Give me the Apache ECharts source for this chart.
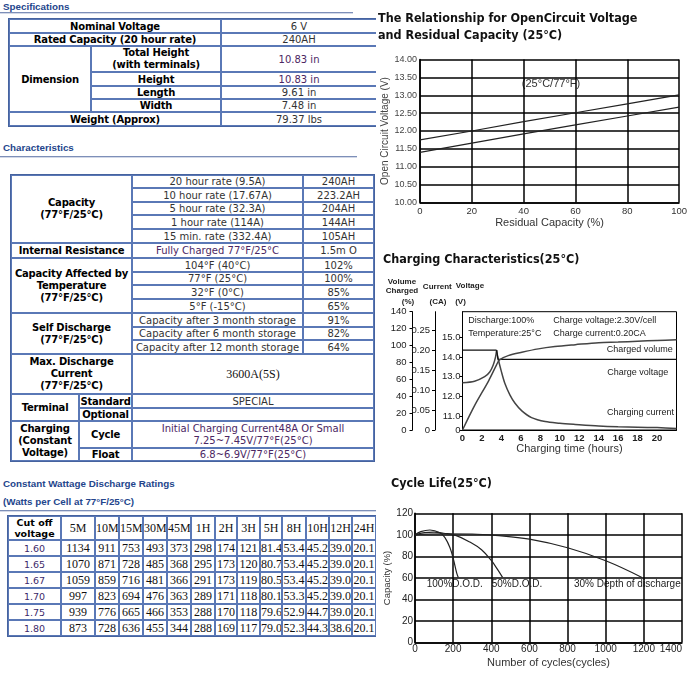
<!DOCTYPE html>
<html><head><meta charset="utf-8">
<script src="https://cdn.jsdelivr.net/npm/echarts@6/dist/echarts.min.js"></script>
<style>
html,body{margin:0;padding:0;background:#fff;}
body{width:690px;height:684px;position:relative;overflow:hidden;}
#left{position:absolute;left:0;top:0;width:376px;height:684px;overflow:hidden;}
.hd{position:absolute;left:3px;font:bold 9.8px 'Liberation Sans',Arial,sans-serif;color:#24458c;white-space:nowrap;line-height:12px;}
.rule{position:absolute;left:0;height:0;border-top:1px solid #7d8fb8;border-bottom:1px solid #d3d9e8;}
table.t{position:absolute;border-collapse:separate;border-spacing:0;border:1px solid #46639f;table-layout:fixed;}
table.t td{border:1px solid #5a78b6;padding:0;text-align:center;vertical-align:middle;font-family:'DejaVu Sans',Verdana,sans-serif;font-size:10px;color:#333;line-height:11px;white-space:nowrap;overflow:hidden;}
table.t td.b{font-weight:bold;color:#000;letter-spacing:-0.2px;}
table.t td.ml{line-height:12px;}
table.t td.p{color:#4c2763;}
table.t td.s{font-family:'Liberation Serif','Times New Roman',serif;font-size:12px;line-height:11px;color:#111;}
table.t td.v{font-size:9.5px;color:#3d2a6a;}
table.t td.bh{font-weight:bold;color:#000;font-size:9.5px;line-height:11px;}
#chart{position:absolute;left:0;top:0;width:690px;height:684px;}
</style></head>
<body>
<div id="left"></div>
<div id="chart"></div>
<script>
// ---------- table data ----------
const specLabels = ["Nominal Voltage", "Rated Capacity (20 hour rate)"];
const specValues = ["6 V", "240AH"];
const dimLabels = ["Total Height<br>(with terminals)", "Height", "Length", "Width"];
const dimValues = ["10.83 in", "10.83 in", "9.61 in", "7.48 in"];
const weightLabel = "Weight (Approx)";
const weightValue = "79.37 lbs";

const capRates = ["20 hour rate (9.5A)", "10 hour rate (17.67A)", "5 hour rate (32.3A)", "1 hour rate (114A)", "15 min. rate (332.4A)"];
const capValues = ["240AH", "223.2AH", "204AH", "144AH", "105AH"];
const irCond = "Fully Charged 77°F/25°C";
const irValue = "1.5m O";
const tempConds = ["104°F (40°C)", "77°F (25°C)", "32°F (0°C)", "5°F (-15°C)"];
const tempValues = ["102%", "100%", "85%", "65%"];
const selfConds = ["Capacity after 3 month storage", "Capacity after 6 month storage", "Capacity after 12 month storage"];
const selfValues = ["91%", "82%", "64%"];
const maxCurrent = "3600A(5S)";
const termStandard = "SPECIAL";
const termOptional = "";
const cycleText = "Initial Charging Current48A Or Small<br>7.25~7.45V/77°F(25°C)";
const floatText = "6.8~6.9V/77°F(25°C)";

const cutoffVoltages = ["1.60", "1.65", "1.67", "1.70", "1.75", "1.80"];
const durations = ["5M", "10M", "15M", "30M", "45M", "1H", "2H", "3H", "5H", "8H", "10H", "12H", "24H"];
const watts160 = ["1134", "911", "753", "493", "373", "298", "174", "121", "81.4", "53.4", "45.2", "39.0", "20.1"];
const watts165 = ["1070", "871", "728", "485", "368", "295", "173", "120", "80.7", "53.4", "45.2", "39.0", "20.1"];
const watts167 = ["1059", "859", "716", "481", "366", "291", "173", "119", "80.5", "53.4", "45.2", "39.0", "20.1"];
const watts170 = ["997", "823", "694", "476", "363", "289", "171", "118", "80.1", "53.3", "45.2", "39.0", "20.1"];
const watts175 = ["939", "776", "665", "466", "353", "288", "170", "118", "79.6", "52.9", "44.7", "39.0", "20.1"];
const watts180 = ["873", "728", "636", "455", "344", "288", "169", "117", "79.0", "52.3", "44.3", "38.6", "20.1"];

// ---------- chart data ----------
const ocvCapacity = [0, 20, 40, 60, 80, 100];
const ocvUpper = [11.75, 12.0, 12.26, 12.51, 12.76, 13.01];
const ocvLower = [11.40, 11.66, 11.92, 12.17, 12.42, 12.67];

const currentFlatT = [0, 3.5];
const currentFlatV = [0.2, 0.2];
const currentDecayT = [3.5, 3.66, 4.0, 4.35, 4.87, 5.4, 6.1, 7.1, 8.5, 10, 11.6, 14, 16, 18, 20, 22];
const currentDecayV = [0.2, 0.179, 0.146, 0.117, 0.088, 0.067, 0.048, 0.031, 0.021, 0.017, 0.014, 0.010, 0.008, 0.007, 0.006, 0.004];
const voltRiseT = [0, 1.24, 2.28, 2.8, 3.15, 3.4, 3.5];
const voltRiseV = [12.69, 12.77, 13.0, 13.24, 13.58, 14.0, 14.34];
const voltHoldT = [3.5, 3.65, 22];
const voltHoldV = [14.34, 13.88, 13.88];
const volumeT = [0, 1.24, 2.7, 3.5, 3.8, 4.7, 6.1, 7.8, 9.5, 11.6, 14, 16, 18, 20, 22];
const volumeV = [0, 28.8, 58.5, 77, 83, 88, 92, 96, 98.7, 101, 103.4, 104, 105, 106, 106.8];
const voltTicks = [10.3, 11, 12, 13, 14, 15];
const currentTicks = [0, 0.05, 0.1, 0.15, 0.2, 0.25];

const dod100Cycles = [0, 30, 78, 131, 157, 183, 201, 218, 227];
const dod100Cap = [100, 103, 104.5, 102, 97.5, 88.3, 77.6, 65, 60.5];
const dod50Cycles = [0, 50, 100, 150, 213, 288, 349, 401, 436, 459];
const dod50Cap = [100, 102, 102.5, 101.5, 99.5, 93.3, 86.2, 76, 67, 60.5];
const dod30Cycles = [0, 150, 300, 420, 600, 800, 1000, 1190];
const dod30Cap = [100, 101, 100.8, 99.5, 96, 88, 76, 60.5];

// ---------- tables ----------
function td(c, cls, at) { return '<td' + (cls ? ' class="' + cls + '"' : '') + (at || '') + '>' + c + '</td>'; }
function table(left, top, widths, heights, rows) {
  let h = '<table class="t" style="left:' + left + 'px;top:' + top + 'px;width:' + widths.reduce((a, b) => a + b, 0) + 'px"><colgroup>';
  widths.forEach(w => h += '<col style="width:' + w + 'px">');
  h += '</colgroup>';
  rows.forEach((r, i) => h += '<tr style="height:' + heights[i] + 'px">' + r + '</tr>');
  return h + '</table>';
}
let L = '';
L += '<div class="hd" style="top:0.5px">Specifications</div><div class="rule" style="top:12px;width:353px"></div>';
let sr = [];
specLabels.forEach((s, i) => sr.push(td(s, 'b', ' colspan="2"') + td(specValues[i])));
dimLabels.forEach((s, i) => sr.push((i === 0 ? td('Dimension', 'b', ' rowspan="4"') : '') + td(s, i === 0 ? 'b ml' : 'b') + td(dimValues[i], i < 2 ? 'p' : '')));
sr.push(td(weightLabel, 'b', ' colspan="2"') + td(weightValue));
L += table(8, 18, [82, 130, 156], [14, 13, 26, 14, 13, 13, 14], sr);

L += '<div class="hd" style="top:142px">Characteristics</div><div class="rule" style="top:156px;width:357px"></div>';
let cr = [];
capRates.forEach((r, i) => cr.push((i === 0 ? td('Capacity<br>(77°F/25°C)', 'b ml', ' colspan="2" rowspan="5"') : '') + td(r) + td(capValues[i])));
cr.push(td('Internal Resistance', 'b', ' colspan="2"') + td(irCond, 'p') + td(irValue));
tempConds.forEach((r, i) => cr.push((i === 0 ? td('Capacity Affected by<br>Temperature<br>(77°F/25°C)', 'b ml', ' colspan="2" rowspan="4"') : '') + td(r) + td(tempValues[i])));
selfConds.forEach((r, i) => cr.push((i === 0 ? td('Self Discharge<br>(77°F/25°C)', 'b ml', ' colspan="2" rowspan="3"') : '') + td(r) + td(selfValues[i])));
cr.push(td('Max. Discharge<br>Current<br>(77°F/25°C)', 'b ml', ' colspan="2"') + td(maxCurrent, 's', ' colspan="2"'));
cr.push(td('Terminal', 'b', ' rowspan="2"') + td('Standard', 'b') + td(termStandard, '', ' colspan="2"'));
cr.push(td('Optional', 'b') + td(termOptional, '', ' colspan="2"'));
cr.push(td('Charging<br>(Constant<br>Voltage)', 'b ml', ' rowspan="2"') + td('Cycle', 'b') + td(cycleText, 'p ml', ' colspan="2"'));
cr.push(td('Float', 'b') + td(floatText, 'p', ' colspan="2"'));
L += table(10, 174, [68, 53, 171, 71], [13, 14, 13, 14, 14, 15, 14, 13, 14, 14, 14, 13, 14, 40, 14, 13, 27, 13], cr);

L += '<div class="hd" style="top:477.5px">Constant Wattage Discharge Ratings</div>';
L += '<div class="hd" style="top:496px">(Watts per Cell at 77°F/25°C)</div><div class="rule" style="top:509.5px;width:376px"></div>';
let wr = [];
let hr = td('Cut off<br>voltage', 'bh');
durations.forEach(d => hr += td(d, 's'));
wr.push(hr);
const wattRows = [watts160, watts165, watts167, watts170, watts175, watts180];
cutoffVoltages.forEach((v, i) => { let r = td(v, 'v'); wattRows[i].forEach(w => r += td(w, 's')); wr.push(r); });
L += table(7, 515, [53, 34, 24, 24, 24, 24, 24, 22, 23, 22, 24, 23, 23, 24], [24, 16, 16, 16, 16, 16, 16], wr);
document.getElementById('left').innerHTML = L;

// ---------- charts ----------
const zip = (a, b) => a.map((x, i) => [x, b[i]]);
const AF = "'Liberation Sans',Arial,sans-serif";
const TF = "'DejaVu Sans Condensed','DejaVu Sans',sans-serif";
const black = { color: '#000', width: 1.5 };
const titleStyle = { fontFamily: TF, fontWeight: 'bold', fontSize: 12.5, lineHeight: 17, color: '#111' };

function txt(text, x, y, opt) {
  return { type: 'text', x: x, y: y, silent: true, style: Object.assign({ text: text, fontFamily: AF, fontSize: 9, fill: '#222', align: 'left', verticalAlign: 'middle' }, opt || {}) };
}
const line = (name, data, xi, yi, extra) => Object.assign({ name: name, type: 'line', data: data, xAxisIndex: xi, yAxisIndex: yi, symbol: 'none', silent: true, lineStyle: { color: '#222', width: 1.2 } }, extra || {});

const chart = echarts.init(document.getElementById('chart'), null, { renderer: 'canvas' });
chart.setOption({
  animation: false,
  backgroundColor: 'transparent',
  title: [
    { text: 'The Relationship for OpenCircuit Voltage\nand Residual Capacity (25°C)', left: 378, top: 10, padding: 0, textStyle: titleStyle },
    { text: 'Charging Characteristics(25°C)', left: 383, top: 251.5, padding: 0, textStyle: titleStyle },
    { text: 'Cycle Life(25°C)', left: 391, top: 475.5, padding: 0, textStyle: titleStyle }
  ],
  grid: [
    { left: 420, top: 59.5, width: 263, height: 143 },
    { left: 462.5, top: 311.7, width: 214, height: 118.3, show: true, borderColor: '#000', borderWidth: 1 },
    { left: 415, top: 513.3, width: 267, height: 129.3 }
  ],
  xAxis: [
    { gridIndex: 0, type: 'value', min: 0, max: 100, interval: 20,
      axisLine: { lineStyle: black }, axisTick: { show: false }, splitLine: { show: true, lineStyle: black },
      axisLabel: { color: '#333', fontFamily: AF, fontSize: 9.5, margin: 4 },
      name: 'Residual Capacity (%)', nameLocation: 'middle', nameGap: 11, nameTextStyle: { fontFamily: AF, fontSize: 11, color: '#333' } },
    { gridIndex: 1, type: 'value', min: 0, max: 22, interval: 2,
      axisLine: { lineStyle: { color: '#000', width: 1 } }, axisTick: { show: false }, splitLine: { show: false },
      axisLabel: { color: '#222', fontFamily: AF, fontWeight: 'bold', fontSize: 9.5, margin: 3, formatter: v => (v >= 22 ? '' : String(v)) },
      name: 'Charging time (hours)', nameLocation: 'middle', nameGap: 12.5, nameTextStyle: { fontFamily: AF, fontSize: 11, color: '#333' } },
    { gridIndex: 2, type: 'value', min: 0, max: 1400, interval: 200,
      axisLine: { lineStyle: black }, axisTick: { show: false }, splitLine: { show: true, lineStyle: black },
      axisLabel: { color: '#222', fontFamily: AF, fontSize: 10, margin: 2, alignMaxLabel: 'right', formatter: v => String(v) },
      name: 'Number of cycles(cycles)', nameLocation: 'middle', nameGap: 14.5, nameTextStyle: { fontFamily: AF, fontSize: 11, color: '#333' } }
  ],
  yAxis: [
    { gridIndex: 0, type: 'value', min: 10, max: 14, interval: 0.5,
      axisLine: { show: true, lineStyle: black }, axisTick: { show: false }, splitLine: { show: true, lineStyle: black },
      axisLabel: { color: '#444', fontFamily: AF, fontSize: 9, margin: 3, formatter: v => v.toFixed(2) },
      name: 'Open Circuit Voltage (V)', nameLocation: 'middle', nameGap: 26, nameRotate: 90, nameTextStyle: { fontFamily: AF, fontSize: 10, color: '#444' } },
    { gridIndex: 1, type: 'value', position: 'left', offset: 0, min: 10.3, max: 16.29,
      axisLine: { show: true, lineStyle: { color: '#000', width: 1 } },
      axisTick: { show: true, length: 3, customValues: voltTicks, lineStyle: { color: '#000' } }, splitLine: { show: false },
      axisLabel: { customValues: voltTicks, color: '#222', fontFamily: AF, fontSize: 9.5, margin: 2, formatter: v => (v < 10.5 ? '0' : v.toFixed(1)) } },
    { gridIndex: 1, type: 'value', position: 'left', offset: 27.5, min: 0, max: 0.296,
      axisLine: { show: true, lineStyle: { color: '#000', width: 1 } },
      axisTick: { show: true, length: 3, customValues: currentTicks, lineStyle: { color: '#000' } }, splitLine: { show: false },
      axisLabel: { customValues: currentTicks, color: '#222', fontFamily: AF, fontSize: 9.5, margin: 5, formatter: v => (v === 0 ? '0' : v.toFixed(2)) } },
    { gridIndex: 1, type: 'value', position: 'left', offset: 50, min: 0, max: 140, interval: 20,
      axisLine: { show: true, lineStyle: { color: '#000', width: 1 } },
      axisTick: { show: true, length: 3, lineStyle: { color: '#000' } }, splitLine: { show: false },
      axisLabel: { color: '#222', fontFamily: AF, fontSize: 9.5, margin: 6 } },
    { gridIndex: 2, type: 'value', min: 0, max: 120, interval: 20,
      axisLine: { show: true, lineStyle: black }, axisTick: { show: false }, splitLine: { show: true, lineStyle: black },
      axisLabel: { color: '#222', fontFamily: AF, fontSize: 10, margin: 2 },
      name: 'Capacity (%)', nameLocation: 'middle', nameGap: 13.5, nameRotate: 90, nameTextStyle: { fontFamily: AF, fontSize: 9.5, color: '#333' } }
  ],
  series: [
    line('OCV upper', zip(ocvCapacity, ocvUpper), 0, 0),
    line('OCV lower', zip(ocvCapacity, ocvLower), 0, 0),
    line('Charging current flat', zip(currentFlatT, currentFlatV), 1, 2, { lineStyle: { color: '#111', width: 1.2 } }),
    line('Charging current', zip(currentDecayT, currentDecayV), 1, 2, { smooth: 0.3, lineStyle: { color: '#444', width: 1.5 } }),
    line('Charge voltage rise', zip(voltRiseT, voltRiseV), 1, 1, { smooth: 0.3, lineStyle: { color: '#444', width: 1.5 } }),
    line('Charge voltage', zip(voltHoldT, voltHoldV), 1, 1, { lineStyle: { color: '#111', width: 1.2 } }),
    line('Charged volume', zip(volumeT, volumeV), 1, 3, { smooth: 0.3, lineStyle: { color: '#444', width: 1.5 } }),
    line('100% D.O.D.', zip(dod100Cycles, dod100Cap), 2, 4, { smooth: 0.4 }),
    line('50% D.O.D.', zip(dod50Cycles, dod50Cap), 2, 4, { smooth: 0.4 }),
    line('30% D.O.D.', zip(dod30Cycles, dod30Cap), 2, 4, { smooth: 0.4 })
  ],
  graphic: [
    txt('(25°C/77°F)', 551, 83.5, { fontSize: 11, align: 'center', fill: '#333' }),
    txt('Volume', 402, 281.7, { fontWeight: 'bold', fontSize: 8, align: 'center' }),
    txt('Charged', 402, 291, { fontWeight: 'bold', fontSize: 8, align: 'center' }),
    txt('Current', 437.3, 286.3, { fontWeight: 'bold', fontSize: 8, align: 'center' }),
    txt('Voltage', 470, 285.3, { fontWeight: 'bold', fontSize: 8, align: 'center' }),
    txt('(%)', 408, 301.7, { fontWeight: 'bold', fontSize: 8, align: 'center' }),
    txt('(CA)', 438, 301.7, { fontWeight: 'bold', fontSize: 8, align: 'center' }),
    txt('(V)', 460.5, 301.7, { fontWeight: 'bold', fontSize: 8, align: 'center' }),
    txt('Discharge:100%', 468.3, 321),
    txt('Charge voltage:2.30V/cell', 553.3, 321),
    txt('Temperature:25°C', 468.3, 333.3),
    txt('Charge current:0.20CA', 553.3, 333.3),
    txt('Charged volume', 672.7, 349.3, { align: 'right' }),
    txt('Charge voltage', 668.3, 372.3, { align: 'right' }),
    txt('Charging current', 674, 412.3, { align: 'right' }),
    txt('100%D.O.D.', 426.7, 584, { fontSize: 10 }),
    txt('50%D.O.D.', 491.7, 584, { fontSize: 10 }),
    txt('30% Depth of discharge', 574, 584, { fontSize: 10 })
  ]
});
</script>
</body></html>
